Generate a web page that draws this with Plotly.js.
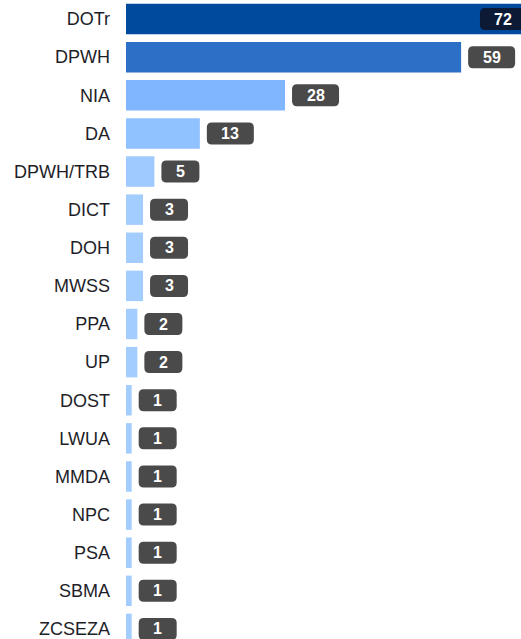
<!DOCTYPE html>
<html>
<head>
<meta charset="utf-8">
<script src="https://cdn.plot.ly/plotly-3.0.1.min.js"></script>
<style>
html, body { margin:0; padding:0; overflow:hidden; background:#fff; }
#chart { width:545px; height:648px; }
</style>
</head>
<body>
<div id="chart"></div>
<script>
const agencies = ["DOTr","DPWH","NIA","DA","DPWH/TRB","DICT","DOH","MWSS","PPA","UP","DOST","LWUA","MMDA","NPC","PSA","SBMA","ZCSEZA"];
const counts = [72,59,28,13,5,3,3,3,2,2,1,1,1,1,1,1,1];
const barColors = ["#004a9e","#2c6fc6","#80b6ff","#90c2ff","#9ecaff","#a3cdff","#a3cdff","#a3cdff","#a3cdff","#a3cdff","#a3cdff","#a3cdff","#a3cdff","#a3cdff","#a3cdff","#a3cdff","#a3cdff"];
const insideLabel = [true,false,false,false,false,false,false,false,false,false,false,false,false,false,false,false,false];

const pxPerUnit = 5.68;
const plotLeft = 126;
const W = 545;
const xMax = (W - plotLeft) / pxPerUnit;

function roundRect(a, b, h, r) {
  const t = -h/2, btm = h/2;
  return `M ${a+r},${t} H ${b-r} Q ${b},${t} ${b},${t+r} V ${btm-r} Q ${b},${btm} ${b-r},${btm} H ${a+r} Q ${a},${btm} ${a},${btm-r} V ${t+r} Q ${a},${t} ${a+r},${t} Z`;
}

const shapes = [];
const annotations = [];
agencies.forEach((name, i) => {
  const v = counts[i];
  const txt = String(v);
  const bw = txt.length > 1 ? 47 : 38;
  const bh = 22;
  let a, b;
  if (insideLabel[i]) { b = -8; a = b - bw; } else { a = 7; b = a + bw; }
  shapes.push({
    type: 'path', xref: 'x', yref: 'y',
    xsizemode: 'pixel', ysizemode: 'pixel',
    xanchor: v, yanchor: name,
    path: roundRect(a, b, bh, 5),
    fillcolor: insideLabel[i] ? '#0c1a36' : '#4a4a4a',
    line: { width: 0 },
    layer: 'above'
  });
  annotations.push({
    x: v, y: name, xref: 'x', yref: 'y',
    text: txt, showarrow: false,
    xanchor: 'center', yanchor: 'middle',
    xshift: (a + b) / 2, yshift: 0,
    font: { family: 'Liberation Sans, Arial, sans-serif', size: 16, color: '#ffffff', weight: 'bold' }
  });
});

const data = [{
  type: 'bar', orientation: 'h',
  y: agencies, x: counts,
  marker: { color: barColors, line: { width: 0 } },
  hoverinfo: 'none'
}];

const layout = {
  width: W, height: 648,
  margin: { l: plotLeft, r: 0, t: 0, b: 0, pad: 0 },
  paper_bgcolor: '#ffffff', plot_bgcolor: '#ffffff',
  bargap: 0.2,
  showlegend: false,
  xaxis: { range: [0, xMax], visible: false, showgrid: false, zeroline: false, fixedrange: true },
  yaxis: {
    type: 'category', autorange: 'reversed',
    showgrid: false, zeroline: false, showline: false,
    ticks: '', ticklabelstandoff: 15,
    tickfont: { family: 'Liberation Sans, Arial, sans-serif', size: 18, color: '#1e1e28' },
    fixedrange: true
  },
  shapes: shapes,
  annotations: annotations
};

Plotly.newPlot('chart', data, layout, { displayModeBar: false, staticPlot: true });
</script>
</body>
</html>
